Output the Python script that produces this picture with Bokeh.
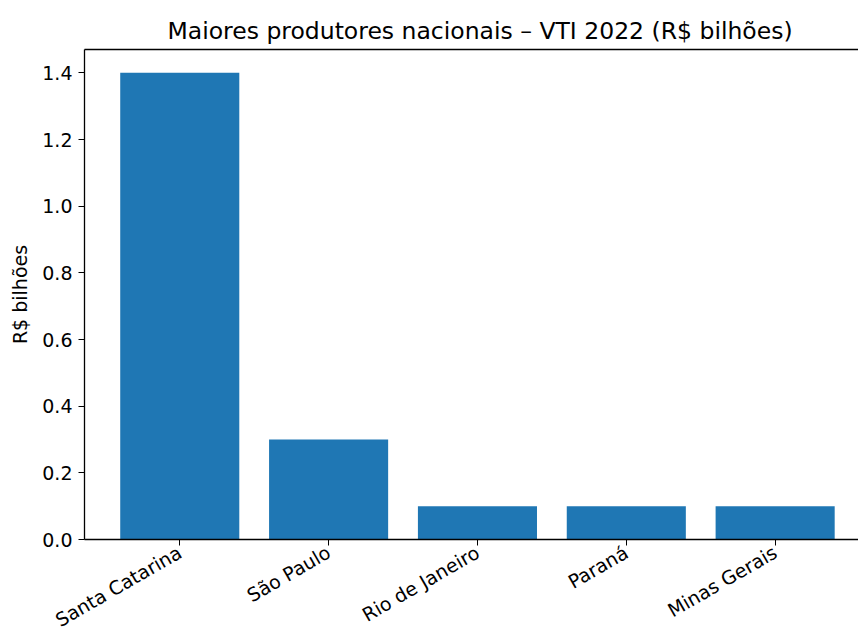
import math
from bokeh.plotting import figure
from bokeh.models import Range1d, FixedTicker, LinearAxis, CustomJSTickFormatter
from bokeh.embed import file_html
from bokeh.resources import INLINE

categories = ["Santa Catarina", "São Paulo", "Rio de Janeiro", "Paraná", "Minas Gerais"]
values = [1.4, 0.3, 0.1, 0.1, 0.1]
y_ticks = [0.0, 0.2, 0.4, 0.6, 0.8, 1.0, 1.2, 1.4]
title_text = "Maiores produtores nacionais – VTI 2022 (R$ bilhões)"
y_label = "R$ bilhões"

FONT = "DejaVu Sans"
xs = list(range(len(categories)))

p = figure(width=858, height=643, output_backend="svg", toolbar_location=None,
           x_range=Range1d(-0.64, 4.56), y_range=Range1d(0, 1.47),
           min_border_right=0, min_border_left=84, min_border_top=49, min_border_bottom=96)
p.title.text = title_text
p.title.align = "left"
p.title.text_font = FONT
p.title.text_font_size = "23.5px"
p.title.text_font_style = "normal"
p.title.text_color = "black"
p.title.offset = 83

p.vbar(x=xs, top=values, width=0.8, bottom=0, fill_color="#1f77b4", line_color=None)

p.grid.visible = False
p.outline_line_color = None
p.background_fill_color = "white"
p.border_fill_color = "white"

# x axis
xa = p.xaxis[0]
xa.ticker = FixedTicker(ticks=xs)
xa.major_label_overrides = {i: c for i, c in enumerate(categories)}
xa.major_label_orientation = math.pi / 6
xa.minor_tick_line_color = None
xa.major_tick_out = 6
xa.major_tick_in = 0
xa.major_label_standoff = 5
xa.major_label_text_font = FONT
xa.major_label_text_font_size = "19px"
xa.major_label_text_color = "black"
xa.axis_line_color = "black"
xa.axis_line_width = 1.3

# y axis
ya = p.yaxis[0]
ya.ticker = FixedTicker(ticks=y_ticks)
ya.formatter = CustomJSTickFormatter(code="return tick.toFixed(1);")
ya.minor_tick_line_color = None
ya.major_tick_out = 6
ya.major_tick_in = 0
ya.major_label_standoff = 6
ya.major_label_text_font = FONT
ya.major_label_text_font_size = "19px"
ya.major_label_text_color = "black"
ya.axis_label = y_label
ya.axis_label_text_font = FONT
ya.axis_label_text_font_size = "19px"
ya.axis_label_text_font_style = "normal"
ya.axis_label_text_color = "black"
ya.axis_label_standoff = 8
ya.axis_line_color = "black"
ya.axis_line_width = 1.3

# top spine
top = LinearAxis(ticker=FixedTicker(ticks=[]), major_label_text_font_size="0px",
                 major_tick_line_color=None, minor_tick_line_color=None,
                 axis_line_color="black", axis_line_width=1.3)
p.add_layout(top, "above")

open("out.html", "w").write(file_html(p, INLINE))
